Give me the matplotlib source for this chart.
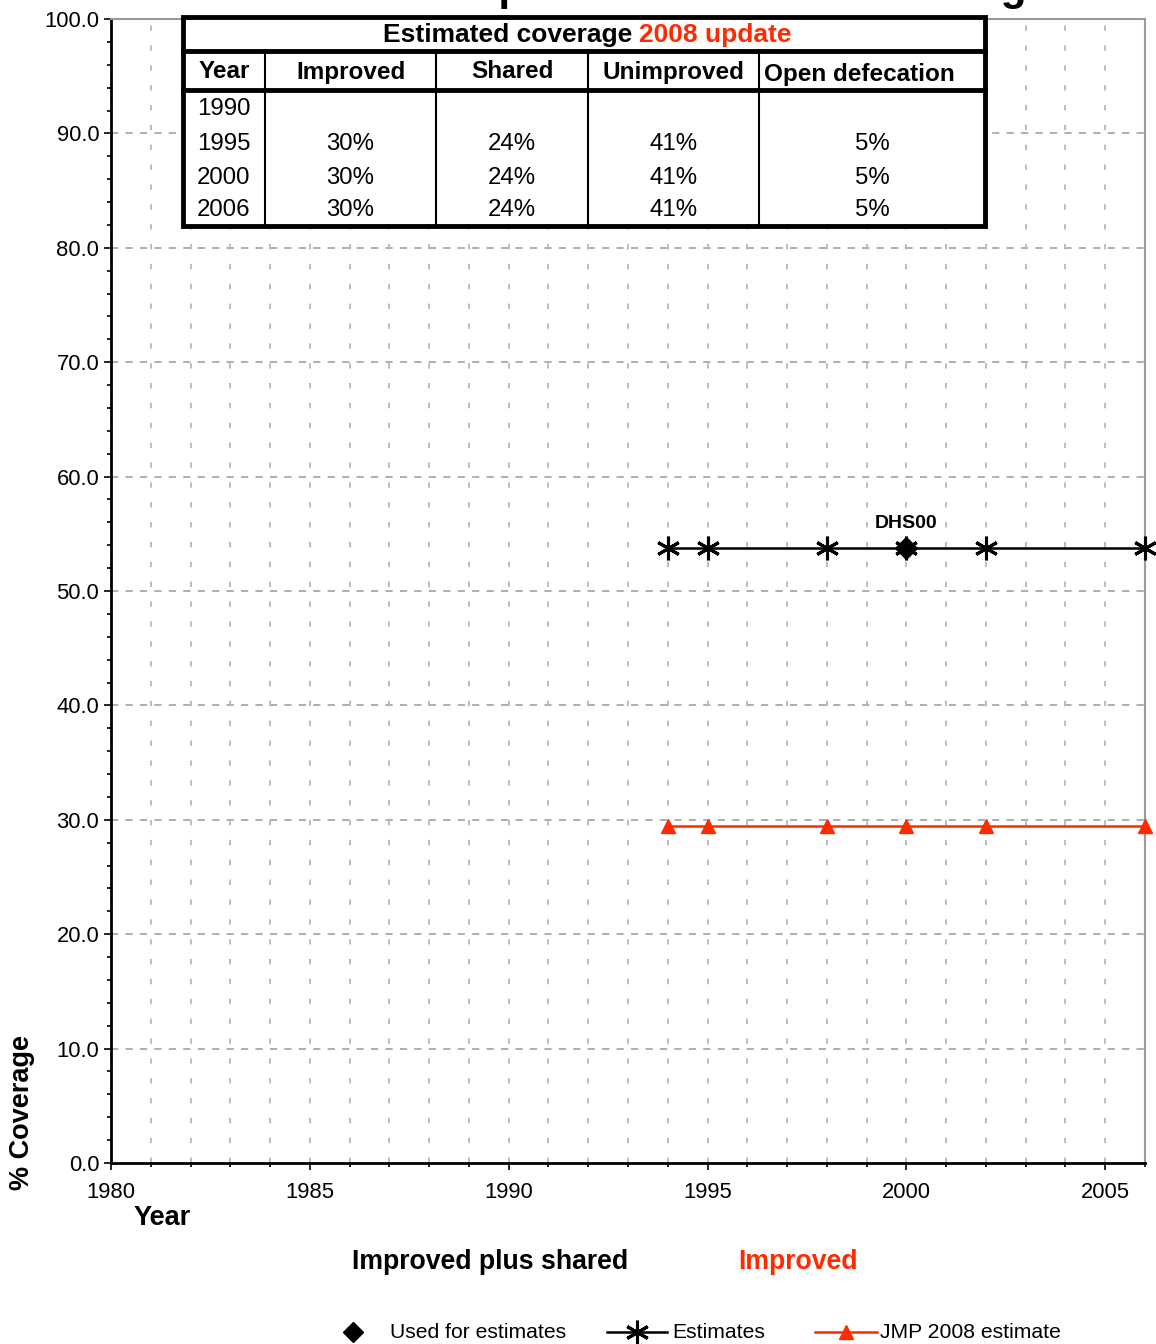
import matplotlib.pyplot as plt
from matplotlib.ticker import MultipleLocator, FormatStrFormatter
from matplotlib.lines import Line2D
import numpy as np

plt.rcParams['font.family'] = ['Liberation Sans', 'DejaVu Sans']

# data
est_years = [1994, 1995, 1998, 2000, 2002, 2006]
est_improved_shared = [53.8, 53.8, 53.8, 53.8, 53.8, 53.8]
est_improved = [29.5, 29.5, 29.5, 29.5, 29.5, 29.5]
survey_years = [2000]
survey_values = [53.8]
survey_labels = ['DHS00']

tbl_years = ['1990', '1995', '2000', '2006']
tbl_improved = ['', '30%', '30%', '30%']
tbl_shared = ['', '24%', '24%', '24%']
tbl_unimproved = ['', '41%', '41%', '41%']
tbl_open = ['', '5%', '5%', '5%']
tbl_headers = ['Year', 'Improved', 'Shared', 'Unimproved', 'Open defecation']

RED = '#ff2a00'
W, H = 1156, 1344

fig = plt.figure(figsize=(W / 100, H / 100), dpi=100)
ax = fig.add_axes([111 / W, 1 - 1163 / H, (1145 - 111) / W, (1163 - 19) / H])

ax.set_xlim(1980, 2006)
ax.set_ylim(0, 100)
ax.xaxis.set_major_locator(MultipleLocator(5))
ax.xaxis.set_minor_locator(MultipleLocator(1))
ax.yaxis.set_major_locator(MultipleLocator(10))
ax.yaxis.set_minor_locator(MultipleLocator(2))
ax.yaxis.set_major_formatter(FormatStrFormatter('%.1f'))
ax.tick_params(axis='both', which='major', labelsize=15.8, length=5, width=1.2)
ax.tick_params(axis='both', which='minor', length=3, width=1.2)
ax.tick_params(axis='x', pad=9)

for yv in range(10, 100, 10):
    ax.axhline(yv, color='#a8a8a8', lw=1.3, ls=(0, (4, 4)), zorder=0)
for xv in range(1981, 2006):
    ax.axvline(xv, color='#b8b8b8', lw=1.3, ls=(0, (3, 8)), zorder=0)

for s in ['left', 'bottom']:
    ax.spines[s].set_linewidth(2)
for s in ['top', 'right']:
    ax.spines[s].set_color('#9a9a9a')
    ax.spines[s].set_linewidth(1.5)

ax.plot(est_years, est_improved_shared, color='black', lw=1.8, marker=(6, 2, 0),
        ms=17, mew=2.2, clip_on=False, zorder=3)
ax.plot(est_years, est_improved, color=RED, lw=1.8, marker='^', ms=10,
        clip_on=False, zorder=3)
ax.plot(survey_years, survey_values, 'D', color='black', ms=11, zorder=4)
for x, y, lab in zip(survey_years, survey_values, survey_labels):
    ax.text(x, y + 1.4, lab, ha='center', va='bottom', fontsize=14,
            fontweight='bold')

# title (mostly outside the canvas, only descenders show)
fig.text(750 / W, 1.0, 'Improved sanitation coverage', ha='center',
         va='baseline', fontsize=30.5, fontweight='bold')

# table drawn in pixel coords
def fx(px):
    return px / W


def fy(py):
    return 1 - py / H


def hline(y, x0, x1, lw):
    fig.add_artist(Line2D([fx(x0), fx(x1)], [fy(y), fy(y)], color='black',
                          lw=lw, transform=fig.transFigure, zorder=10))


def vline(x, y0, y1, lw):
    fig.add_artist(Line2D([fx(x), fx(x)], [fy(y0), fy(y1)], color='black',
                          lw=lw, transform=fig.transFigure, zorder=10))


tx0, tx1, ty0, ty1 = 183, 985, 17, 226
fig.add_artist(plt.Rectangle((fx(tx0), fy(ty1)), fx(tx1 - tx0), (ty1 - ty0) / H,
                             transform=fig.transFigure, facecolor='white',
                             edgecolor='black', lw=3.5, zorder=9))
hline(51, tx0, tx1, 3.5)
hline(90, tx0, tx1, 3.5)
col_edges = [183, 265, 436, 588, 759, 985]
for cx in col_edges[1:-1]:
    vline(cx, 51, ty1, 1.5)

fig.text(fx(632), fy(35), 'Estimated coverage', ha='right', va='center',
         fontsize=19, fontweight='bold', zorder=11)
fig.text(fx(639), fy(35), '2008 update', ha='left', va='center', fontsize=19,
         fontweight='bold', color=RED, zorder=11)

for i, h in enumerate(tbl_headers):
    if i == 4:
        fig.text(fx(764), fy(74), h, ha='left', va='center', fontsize=17.5,
                 fontweight='bold', zorder=11)
    else:
        cx = (col_edges[i] + col_edges[i + 1]) / 2
        fig.text(fx(cx), fy(72), h, ha='center', va='center', fontsize=17.5,
                 fontweight='bold', zorder=11)

row_y = [109, 144, 178, 210]
cols = [tbl_years, tbl_improved, tbl_shared, tbl_unimproved, tbl_open]
for ci, col in enumerate(cols):
    cx = (col_edges[ci] + col_edges[ci + 1]) / 2
    for ry, val in zip(row_y, col):
        fig.text(fx(cx), fy(ry), val, ha='center', va='center', fontsize=17.3,
                 zorder=11)

# axis labels and bottom texts
fig.text(fx(22), fy(1112), '% Coverage', rotation=90, ha='center', va='center',
         fontsize=19.5, fontweight='bold')
fig.text(fx(162), fy(1218), 'Year', ha='center', va='center', fontsize=19.5,
         fontweight='bold')
fig.text(fx(490), fy(1262), 'Improved plus shared', ha='center', va='center',
         fontsize=19.2, fontweight='bold')
fig.text(fx(798), fy(1262), 'Improved', ha='center', va='center', fontsize=19.2,
         fontweight='bold', color=RED)

# legend
fig.add_artist(Line2D([fx(353)], [fy(1332)], marker='D', color='black', ms=10,
                      transform=fig.transFigure))
fig.text(fx(390), fy(1332), 'Used for estimates', ha='left', va='center',
         fontsize=15.2)
fig.add_artist(Line2D([fx(607), fx(667)], [fy(1332), fy(1332)], color='black',
                      lw=1.8, transform=fig.transFigure))
fig.add_artist(Line2D([fx(637)], [fy(1332)], marker=(6, 2, 0), color='black',
                      ms=17, mew=2.2, transform=fig.transFigure))
fig.text(fx(672), fy(1332), 'Estimates', ha='left', va='center', fontsize=15.2)
fig.add_artist(Line2D([fx(815), fx(877)], [fy(1332), fy(1332)], color=RED,
                      lw=1.8, transform=fig.transFigure))
fig.add_artist(Line2D([fx(846)], [fy(1332)], marker='^', color=RED, ms=10,
                      transform=fig.transFigure))
fig.text(fx(880), fy(1332), 'JMP 2008 estimate', ha='left', va='center',
         fontsize=15.2)

fig.savefig('out.png', dpi=100)
